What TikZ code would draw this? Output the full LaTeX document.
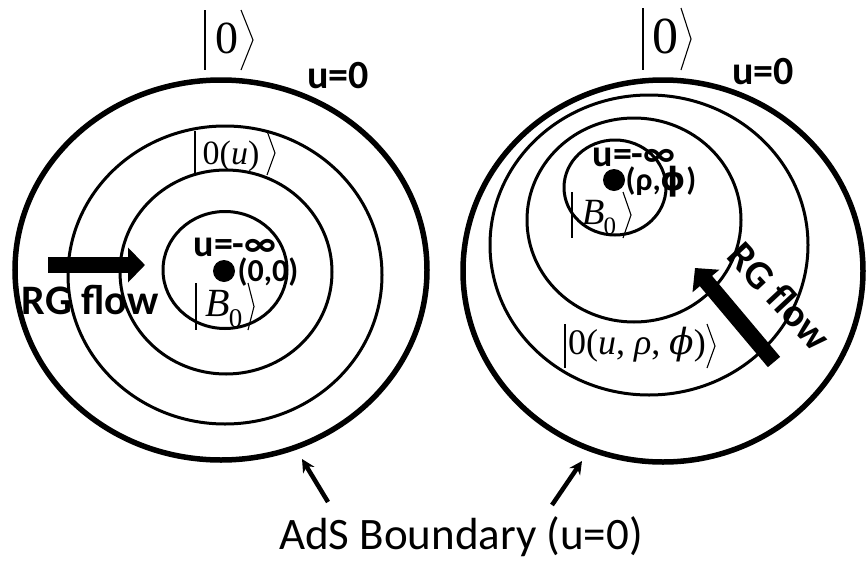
\documentclass[tikz,border=0pt]{standalone}
\usepackage{fontspec}
\setmainfont{Carlito}
\newfontfamily\tms{Liberation Serif}
\newfontfamily\dvs{DejaVu Serif}
\newfontfamily\dvsans{DejaVu Sans}
\usetikzlibrary{arrows.meta}
\newcommand\ketdelim[5]{%
  \draw[ketline] (#1,#3) -- (#1,#4);
  \draw[ketline] (#2,#3) -- ({#2+#5},{(#3+#4)/2}) -- (#2,#4);}
\begin{document}
\begin{tikzpicture}[x=1pt,y=-1pt,
  thickring/.style={line width=5.5pt},
  thinring/.style={line width=3pt},
  ketline/.style={line width=1.1pt, line join=miter},
  bold/.style={inner sep=0pt, anchor=base, font=\bfseries\fontsize{#1}{#1}\selectfont},
  ketlbl/.style={inner sep=0pt, anchor=base, font=\tms\fontsize{#1}{#1}\selectfont},
  plain/.style={inner sep=0pt, anchor=base, font=\fontsize{#1}{#1}\selectfont},
  bigarrow/.style={line width=16pt, -{Triangle[length=17pt,width=34pt]}},
  smallarrow/.style={line width=4.5pt, -{Stealth[length=13pt,width=13pt]}},
  dot/.style={fill=black, circle, inner sep=0pt, minimum size=22pt}]
\useasboundingbox (0,0) rectangle (868,560);

% ---------- left disc ----------
\draw[thickring] (221,270) ellipse [x radius=206, y radius=190];
\draw[thinring] (225,275) ellipse [x radius=157, y radius=149];
\draw[thinring] (226,272) ellipse [x radius=106, y radius=102];
\draw[thinring] (225,270) ellipse [x radius=62, y radius=58.5];
\node[dot] (dL) at (224,271) {};

\node[ketlbl=46] (k1) at (227,53) {0};
\ketdelim{205}{241}{10}{70}{12}
\node[bold=40] (u0L) at (338,88) {u=0};
\node[ketlbl=34] (k3) at (231,164) {0(\textit{u})};
\ketdelim{195}{267}{131}{175}{8}
\node[bold=38] (uinfL) at (235,256) {u=-∞};
\node[bold=32] (p0) at (268,281) {(0,0)};
\node[ketlbl=40] (k4) at (224,316) {\textit{B}\kern-1pt\raisebox{-0.28em}{\fontsize{27}{27}\selectfont 0}};
\ketdelim{196}{248}{283}{330}{6}
\node[bold=42] (rgL) at (90,314) {RG flow};
\coordinate (rgLs) at (48,265);
\coordinate (rgLe) at (145,265);
\draw[bigarrow] (rgLs) -- (rgLe);

% ---------- right disc ----------
\draw[thickring] (663,271) ellipse [x radius=200, y radius=191];
\draw[thinring] (649,245) ellipse [x radius=159, y radius=150];
\draw[thinring] (634,220) ellipse [x radius=107, y radius=102];
\draw[thinring] (615,187.5) ellipse [x radius=51, y radius=47.5];
\node[dot] (dR) at (614,180) {};

\node[ketlbl=52] (k2) at (665,53) {0};
\ketdelim{643}{681}{8}{70}{10}
\node[bold=40] (u0R) at (763,84) {u=0};
\node[bold=38] (uinfR) at (634,166) {u=-∞};
\node[bold=32] (prp) at (661,190) {(ρ,{\dvsans\bfseries ϕ})};
\node[ketlbl=37] (k5) at (599,224) {\textit{B}\kern-1pt\raisebox{-0.28em}{\fontsize{25}{25}\selectfont 0}};
\ketdelim{572}{623}{192}{238}{8}
\node[ketlbl=36] (k6) at (637,354) {0(\textit{u}, \textit{ρ}, {\dvs\itshape ϕ})};
\ketdelim{565}{707}{324}{368}{8}
\node[bold=40, anchor=center, rotate=-47] (rgR) at (780,296) {RG flow};
\coordinate (rgRs) at (774,362);
\coordinate (rgRe) at (695,268);
\draw[bigarrow] (rgRs) -- (rgRe);

% ---------- boundary caption ----------
\node[plain=45] (ads) at (461,549) {AdS Boundary (u=0)};
\coordinate (aL) at (328,502);
\coordinate (aLt) at (302,459);
\coordinate (aR) at (552,505);
\coordinate (aRt) at (582,461);
\draw[smallarrow] (aL) -- (aLt);
\draw[smallarrow] (aR) -- (aRt);
\end{tikzpicture}
\end{document}
